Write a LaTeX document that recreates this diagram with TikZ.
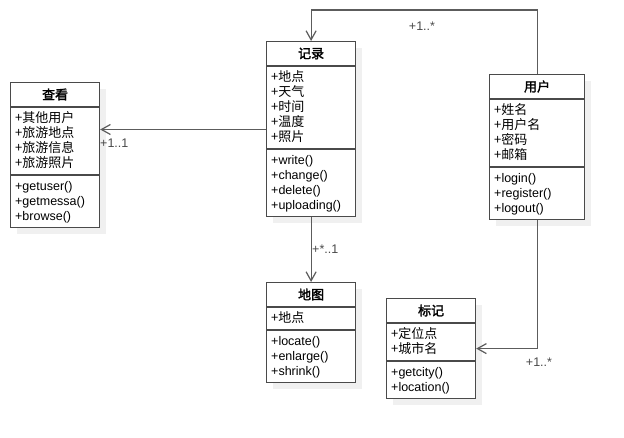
\documentclass[tikz,border=0pt]{standalone}
\usepackage{fontspec}
\setmainfont{Liberation Sans}
\newfontfamily\cjk{Noto Sans CJK SC}[AutoFakeBold=2]
\usepackage{xcolor}
\usetikzlibrary{arrows.meta}

\definecolor{shadowgray}{HTML}{F0F0F0}
\definecolor{linegray}{HTML}{4A4A4A}
\definecolor{assocgray}{HTML}{5C5C5C}

\tikzset{
  classbox/.style={draw=linegray, line width=1.2pt, fill=white, inner sep=0pt},
  classline/.style={draw=linegray, line width=1.2pt},
  classtitle/.style={font=\cjk\bfseries\fontsize{13}{15}\selectfont, inner sep=0pt},
  classattr/.style={font=\cjk\fontsize{13}{15}\selectfont, align=left, inner xsep=5pt, inner ysep=4.5pt, anchor=north west},
  classmeth/.style={font=\fontsize{12.5}{15}\selectfont, align=left, inner xsep=5pt, inner ysep=6pt, anchor=north west},
  assoc/.style={draw=assocgray, line width=1.2pt, -{Straight Barb[length=9pt,width=10pt]}},
  mult/.style={font=\fontsize{12.5}{15}\selectfont, text=linegray, inner sep=0pt}
}

% name, north west corner, width, title, attributes, n attributes, methods, n methods
\newcommand{\umlclass}[8]{%
  \pgfmathsetmacro\clsattrh{15*#6+8}
  \pgfmathsetmacro\clsmethh{15*#8+7}
  \pgfmathsetmacro\clstotalh{25+\clsattrh+\clsmethh}
  \fill[shadowgray] ([shift={(7,7)}]#2) rectangle ++(#3,\clstotalh);
  \node[classbox, minimum width=#3, minimum height=\clstotalh, anchor=north west] (#1) at (#2) {};
  \node[classtitle] (#1-title) at ([yshift=-12.5]#1.north) {#4};
  \draw[classline] ([yshift=-25]#1.north west) -- ([yshift=-25]#1.north east);
  \node[classattr] (#1-attr) at ([yshift=-25]#1.north west) {#5};
  \draw[classline] ([yshift=-25-\clsattrh]#1.north west) -- ([yshift=-25-\clsattrh]#1.north east);
  \node[classmeth] (#1-meth) at ([yshift=-25-\clsattrh]#1.north west) {#7};
}

\begin{document}
\begin{tikzpicture}[x=1pt, y=-1pt]
  \useasboundingbox[fill=white] (0,0) rectangle (624,438);

  % classes
  \umlclass{chakan}{10,82}{89}{查看}{+其他用户\\+旅游地点\\+旅游信息\\+旅游照片}{4}{+getuser()\\+getmessa()\\+browse()}{3}
  \umlclass{jilu}{266,41}{89}{记录}{+地点\\+天气\\+时间\\+温度\\+照片}{5}{+write()\\+change()\\+delete()\\+uploading()}{4}
  \umlclass{yonghu}{489,74}{95}{用户}{+姓名\\+用户名\\+密码\\+邮箱}{4}{+login()\\+register()\\+logout()}{3}
  \umlclass{ditu}{266,282}{89}{地图}{+地点}{1}{+locate()\\+enlarge()\\+shrink()}{3}
  \umlclass{biaoji}{386,298}{89}{标记}{+定位点\\+城市名}{2}{+getcity()\\+location()}{2}

  % associations
  \draw[assoc] (yonghu.north) -- ++(0,-64) -| (jilu.north);
  \coordinate (jilu-out) at ([yshift=-88.5]jilu.north west);
  \draw[assoc] (jilu-out) -- (chakan.east |- jilu-out);
  \draw[assoc] (jilu.south) -- (ditu.north);
  \draw[assoc] (yonghu.south) |- (biaoji.east);

  % multiplicities
  \node[mult] (m-yonghu-jilu) at (422,26) {+1..*};
  \node[mult, anchor=west] (m-jilu-chakan) at (100,143) {+1..1};
  \node[mult, anchor=west] (m-jilu-ditu) at (312,249) {+*..1};
  \node[mult] (m-yonghu-biaoji) at (539,362) {+1..*};
\end{tikzpicture}
\end{document}
